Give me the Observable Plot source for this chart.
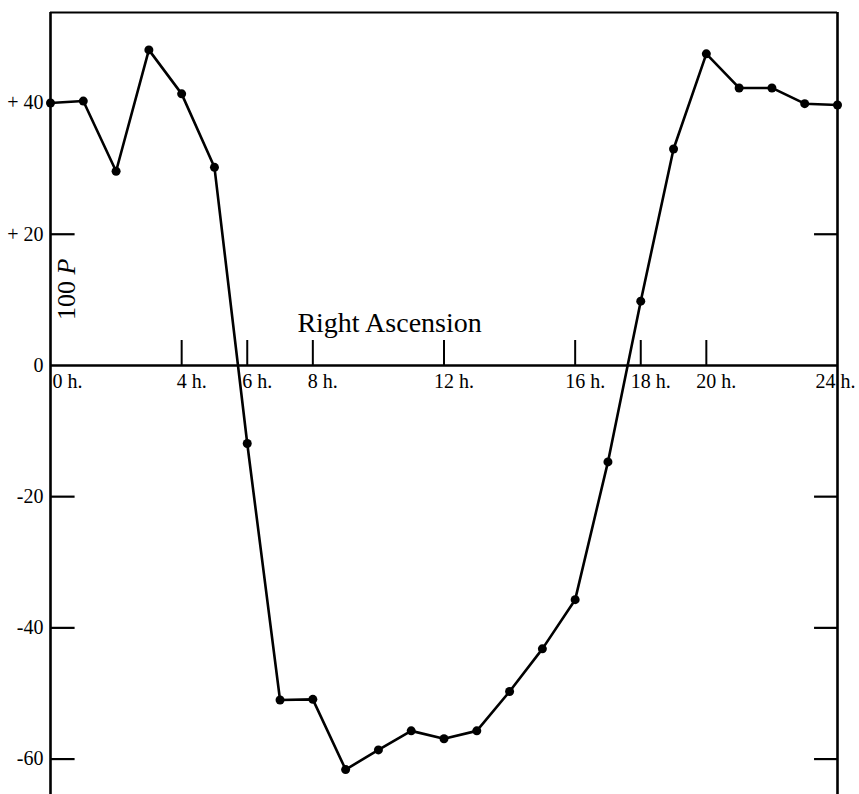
<!DOCTYPE html>
<html>
<head>
<meta charset="utf-8">
<script src="https://cdn.jsdelivr.net/npm/d3@7"></script>
<script src="https://cdn.jsdelivr.net/npm/@observablehq/plot@0.6"></script>
<style>
  body { margin: 0; background: #fff; }
  #chart svg { display: block; }
</style>
</head>
<body>
<div id="chart"></div>
<script>
// ---- data ----
const hours  = [0,1,2,3,4,5,6,7,8,9,10,11,12,13,14,15,16,17,18,19,20,21,22,23,24];
const values = [40.0,40.3,29.6,48.1,41.4,30.2,-11.9,-51.0,-50.9,-61.6,-58.6,-55.7,-56.9,-55.7,-49.7,-43.2,-35.7,-14.7,9.8,33.0,47.5,42.3,42.3,39.9,39.7];

const xTicks = [0,4,6,8,12,16,18,20,24];
const xTickLabels = ["0 h.","4 h.","6 h.","8 h.","12 h.","16 h.","18 h.","20 h.","24 h."];
const yTicks = [40,20,0,-20,-40,-60];
const yTickLabels = ["+ 40","+ 20","0","-20","-40","-60"];
const xTitle = "Right Ascension";
const yTitle = "100 P";

// ---- derived tables ----
const points = hours.map((h, i) => ({h, v: values[i]}));
const xLab = xTicks.map((t, i) => ({t, label: xTickLabels[i]}));
const yLab = yTicks.map((t, i) => ({t, label: yTickLabels[i]}));
const innerX = xTicks.filter(t => t > 0 && t < 24);
const sideY = yTicks.filter(t => t !== 0 && t !== 40);

const yTop = 53.8, yBottom = -65.4;
const xMin = 0, xMax = 24;

const font = "'Liberation Serif', 'Times New Roman', serif";

const chart = Plot.plot({
  width: 859,
  height: 794,
  marginLeft: 50,
  marginRight: 22,
  marginTop: 12,
  marginBottom: 0,
  x: {domain: [xMin, xMax], axis: null},
  y: {domain: [yBottom, yTop], axis: null},
  style: {fontFamily: font, background: "#fff", color: "#000", overflow: "visible"},
  marks: [
    // frame
    Plot.ruleX([xMin, xMax], {stroke: "#000", strokeWidth: 2.6}),
    Plot.ruleY([yTop], {stroke: "#000", strokeWidth: 2}),
    // zero axis
    Plot.ruleY([0], {stroke: "#000", strokeWidth: 2.5}),
    // hour ticks on the zero axis
    Plot.ruleX(innerX, {y1: 0, y2: 3.8, stroke: "#000", strokeWidth: 2}),
    // side ticks
    Plot.ruleY(sideY, {x1: xMin, x2: xMin + 0.75, stroke: "#000", strokeWidth: 2.2}),
    Plot.ruleY(sideY, {x1: xMax - 0.7, x2: xMax, stroke: "#000", strokeWidth: 2.2}),
    // data
    Plot.line(points, {x: "h", y: "v", stroke: "#000", strokeWidth: 2.6}),
    Plot.dot(points, {x: "h", y: "v", r: 4.5, fill: "#000", stroke: "none"}),
    // y tick labels
    Plot.text(yLab, {x: xMin, y: "t", text: "label", textAnchor: "end", dx: -7, fontSize: 20, fill: "#000"}),
    // x tick labels
    Plot.text(xLab.filter(d => d.t === 0), {x: "t", y: 0, text: "label", textAnchor: "start", dx: 2, dy: 16, fontSize: 20, fill: "#000"}),
    Plot.text(xLab.filter(d => d.t > 0 && d.t < 24), {x: "t", y: 0, text: "label", textAnchor: "middle", dx: 10, dy: 16, fontSize: 20, fill: "#000"}),
    Plot.text(xLab.filter(d => d.t === 24), {x: "t", y: 0, text: d => d.label.split(" ")[0], textAnchor: "end", dx: -2, dy: 16, fontSize: 20, fill: "#000"}),
    Plot.text(xLab.filter(d => d.t === 24), {x: "t", y: 0, text: d => d.label.split(" ")[1], textAnchor: "start", dx: 3, dy: 16, fontSize: 20, fill: "#000"}),
    // titles
    Plot.text([xTitle], {x: 10.34, y: 0, text: d => d, textAnchor: "middle", dy: -42, fontSize: 28, fill: "#000"}),
    Plot.text([yTitle], {x: xMin, y: 11.6, text: d => d, textAnchor: "middle", rotate: -90, dx: 16, fontSize: 26, fill: "#000"})
  ]
});

// italicise the "P" in the vertical title
d3.select(chart).selectAll("text").filter(function () { return this.textContent === yTitle; }).each(function () {
  const el = d3.select(this);
  const parts = yTitle.split(" ");
  el.text("");
  el.append("tspan").text(parts[0] + " ");
  el.append("tspan").attr("font-style", "italic").text(parts[1]);
});

document.getElementById("chart").appendChild(chart);
</script>
</body>
</html>
